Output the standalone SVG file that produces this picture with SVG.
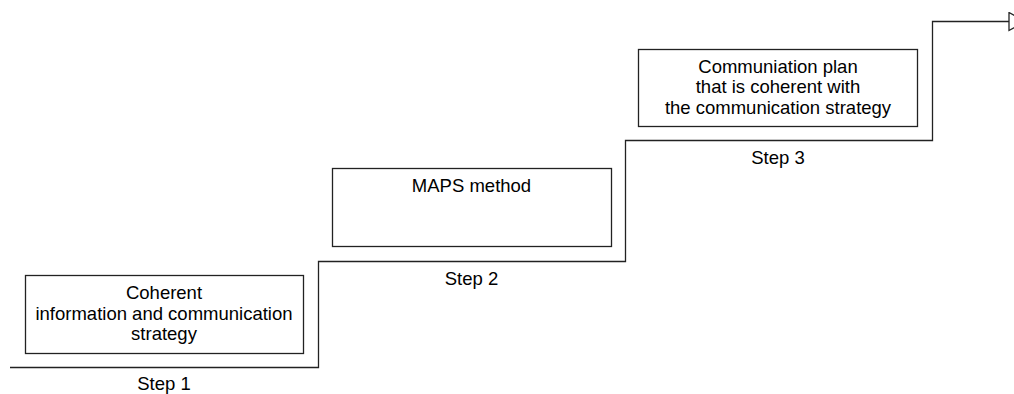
<svg xmlns="http://www.w3.org/2000/svg" width="1014" height="394" viewBox="0 0 1014 394">
  <style>
    .box { fill: #ffffff; stroke: #222222; stroke-width: 1.3; }
    .lbl { font-family: "Liberation Sans", Arial, sans-serif; font-size: 18.5px; fill: #000000; text-anchor: middle; }
    .stair { fill: none; stroke: #222222; stroke-width: 1.3; }
  </style>
  <defs>
    <marker id="openArrow" markerWidth="18" markerHeight="20" refX="1" refY="10" orient="auto" markerUnits="userSpaceOnUse">
      <path d="M1,1 L17,10 L1,19 Z" fill="#ffffff" stroke="#222222" stroke-width="1.3"/>
    </marker>
  </defs>

  <!-- staircase connector -->
  <g id="connectors">
    <path class="stair" d="M10,367.5 H318.5 V261.5 H625.5 V140.5 H932.5 V21.5 H1009" marker-end="url(#openArrow)"/>
  </g>

  <g id="step1">
    <rect class="box" x="25.5" y="275.5" width="278" height="78"/>
    <text class="lbl" x="164" y="299">Coherent</text>
    <text class="lbl" x="164" y="319.5">information and communication</text>
    <text class="lbl" x="164" y="340">strategy</text>
    <text class="lbl" x="164" y="390">Step 1</text>
  </g>

  <g id="step2">
    <rect class="box" x="332.5" y="168.5" width="279" height="78"/>
    <text class="lbl" x="471.5" y="192">MAPS method</text>
    <text class="lbl" x="471.5" y="285">Step 2</text>
  </g>

  <g id="step3">
    <rect class="box" x="638.5" y="49.5" width="279" height="77"/>
    <text class="lbl" x="778" y="72.5">Communiation plan</text>
    <text class="lbl" x="778" y="93">that is coherent with</text>
    <text class="lbl" x="778" y="113.5">the communication strategy</text>
    <text class="lbl" x="778" y="164">Step 3</text>
  </g>
</svg>
